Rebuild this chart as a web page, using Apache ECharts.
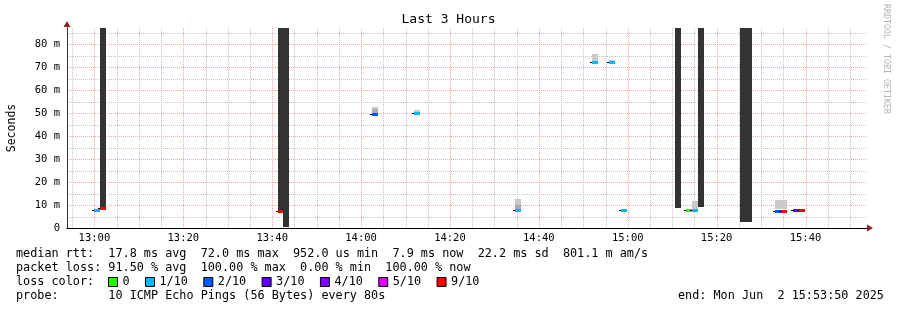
<!DOCTYPE html>
<html><head><meta charset="utf-8">
<script src="https://cdn.jsdelivr.net/npm/echarts@6/dist/echarts.min.js"></script>
<style>html,body{margin:0;padding:0;background:#fff}#c{width:897px;height:310px}</style>
</head><body><div id="c"></div>
<script>
// ---- data (time = minutes since 12:00, values in milliseconds "m") ----
const xMin = 53.8333, xMax = 233.8333;
const xMajorTicks = [60, 80, 100, 120, 140, 160, 180, 200, 220];
const xTickLabels = ['13:00', '13:20', '13:40', '14:00', '14:20', '14:40', '15:00', '15:20', '15:40'];
const xMinorTicks = [55, 65, 70, 75, 85, 90, 95, 105, 110, 115, 125, 130, 135, 145, 150, 155, 165, 170, 175, 185, 190, 195, 205, 210, 215, 225, 230];
const yMax = 87;
const yMajorTicks = [0, 10, 20, 30, 40, 50, 60, 70, 80];
const yTickLabels = ['0', '10 m', '20 m', '30 m', '40 m', '50 m', '60 m', '70 m', '80 m'];
const yMinorTicks = [5, 15, 25, 35, 45, 55, 65, 75, 85];

const lossLabels = ['0', '1/10', '2/10', '3/10', '4/10', '5/10', '9/10'];

// median rtt steps
const medStart = [59.8, 61.3, 101.2, 122.5, 131.9, 154.6, 172.0, 175.8, 178.5, 193.1, 194.5, 213.1, 214.5, 217.2, 218.5];
const medEnd   = [61.3, 62.6, 102.5, 123.8, 133.3, 156.0, 173.3, 177.1, 179.8, 194.5, 195.8, 214.5, 215.8, 218.5, 219.9];
const medValue = [7.9, 8.7, 7.6, 49.7, 50.1, 7.9, 72.2, 72.2, 7.9, 7.7, 7.7, 7.6, 7.6, 7.9, 7.9];
const medLoss  = ['1/10', '9/10', '9/10', '2/10', '1/10', '1/10', '1/10', '1/10', '1/10', '0', '1/10', '2/10', '9/10', '3/10', '9/10'];

// smoke (spread of pings)
const smokeStart = [61.3, 101.4, 102.5, 190.6, 195.8, 205.3, 122.5, 122.5, 131.9, 154.6, 154.6, 172.0, 175.8, 194.5, 213.1];
const smokeEnd   = [62.6, 102.5, 103.7, 192.0, 197.2, 208.0, 123.8, 123.8, 133.3, 156.0, 156.0, 173.3, 177.1, 195.8, 215.8];
const smokeLow   = [8.7, 7.6, 0.6, 8.6, 9.3, 2.5, 50.0, 51.8, 50.2, 8.3, 10.0, 72.6, 72.6, 8.1, 8.3];
const smokeHigh  = [87, 87, 87, 87, 87, 87, 51.8, 52.6, 51.3, 10.0, 12.6, 75.6, 73.0, 11.7, 12.2];
const smokeShade = ['bar', 'bar', 'bar', 'bar', 'bar', 'bar', 'mid', 'light', 'light', 'mid', 'light', 'light', 'light', 'light', 'light'];

// ---- styles ----
const lossColor = {'0': '#26ff00', '1/10': '#00b8ff', '2/10': '#0059ff', '3/10': '#5e00ff', '4/10': '#7e00ff', '5/10': '#dd00ff', '9/10': '#ff0000'};
const shadeColor = {bar: '#333333', mid: '#acacac', light: '#cacaca'};
const MONO = 'DejaVu Sans Mono';

function vLine(color) {
  return function (params, api) {
    const cs = params.coordSys;
    const x = Math.round(api.coord([api.value(0), 0])[0]) + 0.5;
    return {type: 'line', shape: {x1: x, y1: cs.y, x2: x, y2: cs.y + cs.height}, style: {stroke: color, lineWidth: 1, lineDash: [1, 1]}};
  };
}
function hLine(color) {
  return function (params, api) {
    const cs = params.coordSys;
    const y = Math.round(api.coord([xMin, api.value(1)])[1]) + 0.5;
    return {type: 'line', shape: {x1: cs.x, y1: y, x2: cs.x + cs.width, y2: y}, style: {stroke: color, lineWidth: 1, lineDash: [1, 1]}};
  };
}

const series = [];
series.push({type: 'custom', silent: true, z: 1, renderItem: vLine('#c4c4c4'), data: xMinorTicks.map(v => [v, 0])});
series.push({type: 'custom', silent: true, z: 1, renderItem: hLine('#c4c4c4'), data: yMinorTicks.map(v => [xMin, v])});
series.push({type: 'custom', silent: true, z: 2, renderItem: vLine('#f2a8a8'), data: xMajorTicks.map(v => [v, 0])});
series.push({type: 'custom', silent: true, z: 2, renderItem: hLine('#f2a8a8'), data: yMajorTicks.filter(v => v > 0).map(v => [xMin, v])});

// smoke
series.push({
  type: 'custom', z: 3, clip: true,
  encode: {x: [0, 1], y: [2, 3]},
  data: smokeStart.map((s, i) => [s, smokeEnd[i], smokeLow[i], smokeHigh[i]]),
  renderItem: function (params, api) {
    const a = api.coord([api.value(0), api.value(3)]);
    const b = api.coord([api.value(1), api.value(2)]);
    const x0 = Math.round(a[0]), x1 = Math.round(b[0]);
    const y0 = Math.round(a[1]), y1 = Math.round(b[1]);
    return {type: 'rect', shape: {x: x0, y: y0, width: x1 - x0, height: y1 - y0},
            style: {fill: shadeColor[smokeShade[params.dataIndex]]}};
  }
});

// medians, one series per loss colour
lossLabels.forEach(function (lbl) {
  const d = [];
  medStart.forEach(function (s, i) { if (medLoss[i] === lbl) d.push([s, medEnd[i], medValue[i]]); });
  series.push({
    type: 'custom', name: lbl, z: 4, clip: true,
    itemStyle: {color: lossColor[lbl]},
    encode: {x: [0, 1], y: 2},
    data: d,
    renderItem: function (params, api) {
      const a = api.coord([api.value(0), api.value(2)]);
      const b = api.coord([api.value(1), api.value(2)]);
      const x0 = Math.round(a[0]), x1 = Math.round(b[0]);
      const y = Math.round(a[1]);
      return {type: 'group', children: [
        {type: 'rect', shape: {x: x0, y: y - 1, width: x1 - x0, height: 3}, style: {fill: lossColor[lbl]}},
        {type: 'rect', shape: {x: x0 - 2, y: y, width: 2, height: 1}, style: {fill: '#000'}}
      ]};
    }
  });
});

const axisLabelStyle = {fontFamily: MONO, fontSize: 10.5, color: '#000'};

const option = {
  backgroundColor: '#ffffff',
  animation: false,
  title: {
    text: 'Last 3 Hours', left: 'center', top: 13, padding: 0,
    textStyle: {fontFamily: MONO, fontSize: 13, fontWeight: 'normal', color: '#000'}
  },
  grid: {left: 67, top: 28, width: 800, height: 200, containLabel: false, outerBoundsMode: 'none'},
  legend: {
    data: lossLabels, left: 108, top: 275, padding: 0,
    icon: 'rect', itemWidth: 9, itemHeight: 9, itemGap: 15.4,
    itemStyle: {borderColor: '#000', borderWidth: 1},
    textStyle: {fontFamily: MONO, fontSize: 11.8, color: '#000', lineHeight: 14},
    selectedMode: false
  },
  xAxis: [{
    type: 'value', min: xMin, max: xMax, position: 'bottom', z: 5,
    splitLine: {show: false},
    axisLine: {show: true, onZero: false, lineStyle: {color: '#000', width: 1}},
    axisTick: {show: false},
    axisLabel: {
      customValues: xMajorTicks, margin: 5, ...axisLabelStyle,
      formatter: v => xTickLabels[xMajorTicks.indexOf(Math.round(v))] || ''
    }
  }, {
    type: 'value', min: xMin, max: xMax, position: 'bottom', z: 4,
    splitLine: {show: false}, axisTick: {show: false}, axisLabel: {show: false},
    axisLine: {show: true, onZero: false, symbol: ['none', 'triangle'], symbolSize: [7, 6], symbolOffset: [0, 3],
               lineStyle: {color: '#902020', width: 1}}
  }],
  yAxis: [{
    type: 'value', min: 0, max: yMax, position: 'left', z: 5,
    name: 'Seconds', nameLocation: 'middle', nameRotate: 90, nameGap: 49,
    nameTextStyle: {fontFamily: MONO, fontSize: 11.5, color: '#000'},
    splitLine: {show: false},
    axisLine: {show: true, onZero: false, lineStyle: {color: '#333', width: 1}},
    axisTick: {show: false},
    axisLabel: {
      customValues: yMajorTicks, margin: 7, ...axisLabelStyle,
      formatter: v => yTickLabels[yMajorTicks.indexOf(Math.round(v))] || ''
    }
  }, {
    type: 'value', min: 0, max: yMax, position: 'left', z: 4,
    splitLine: {show: false}, axisTick: {show: false}, axisLabel: {show: false},
    axisLine: {show: true, onZero: false, symbol: ['none', 'triangle'], symbolSize: [7, 6], symbolOffset: [0, 4],
               lineStyle: {color: '#902020', width: 1}}
  }],
  graphic: [
    {type: 'text', x: 16, y: 254, style: {text: 'median rtt:  17.8 ms avg  72.0 ms max  952.0 us min  7.9 ms now  22.2 ms sd  801.1 m am/s', fontFamily: MONO, fontSize: 11.8, fill: '#000', verticalAlign: 'middle'}},
    {type: 'text', x: 16, y: 268, style: {text: 'packet loss: 91.50 % avg  100.00 % max  0.00 % min  100.00 % now', fontFamily: MONO, fontSize: 11.8, fill: '#000', verticalAlign: 'middle'}},
    {type: 'text', x: 16, y: 282, style: {text: 'loss color:', fontFamily: MONO, fontSize: 11.8, fill: '#000', verticalAlign: 'middle'}},
    {type: 'text', x: 16, y: 296, style: {text: 'probe:       10 ICMP Echo Pings (56 Bytes) every 80s', fontFamily: MONO, fontSize: 11.8, fill: '#000', verticalAlign: 'middle'}},
    {type: 'text', x: 678, y: 296, style: {text: 'end: Mon Jun  2 15:53:50 2025', fontFamily: MONO, fontSize: 11.8, fill: '#000', verticalAlign: 'middle'}},
    {type: 'text', x: 886, y: 59, rotation: -Math.PI / 2, style: {text: 'RRDTOOL / TOBI OETIKER', fontFamily: MONO, fontSize: 8.3, fill: '#b4b4b4', align: 'center', verticalAlign: 'middle'}}
  ],
  series: series
};

const chart = echarts.init(document.getElementById('c'), null, {renderer: 'canvas'});
chart.setOption(option);
</script>
</body></html>
